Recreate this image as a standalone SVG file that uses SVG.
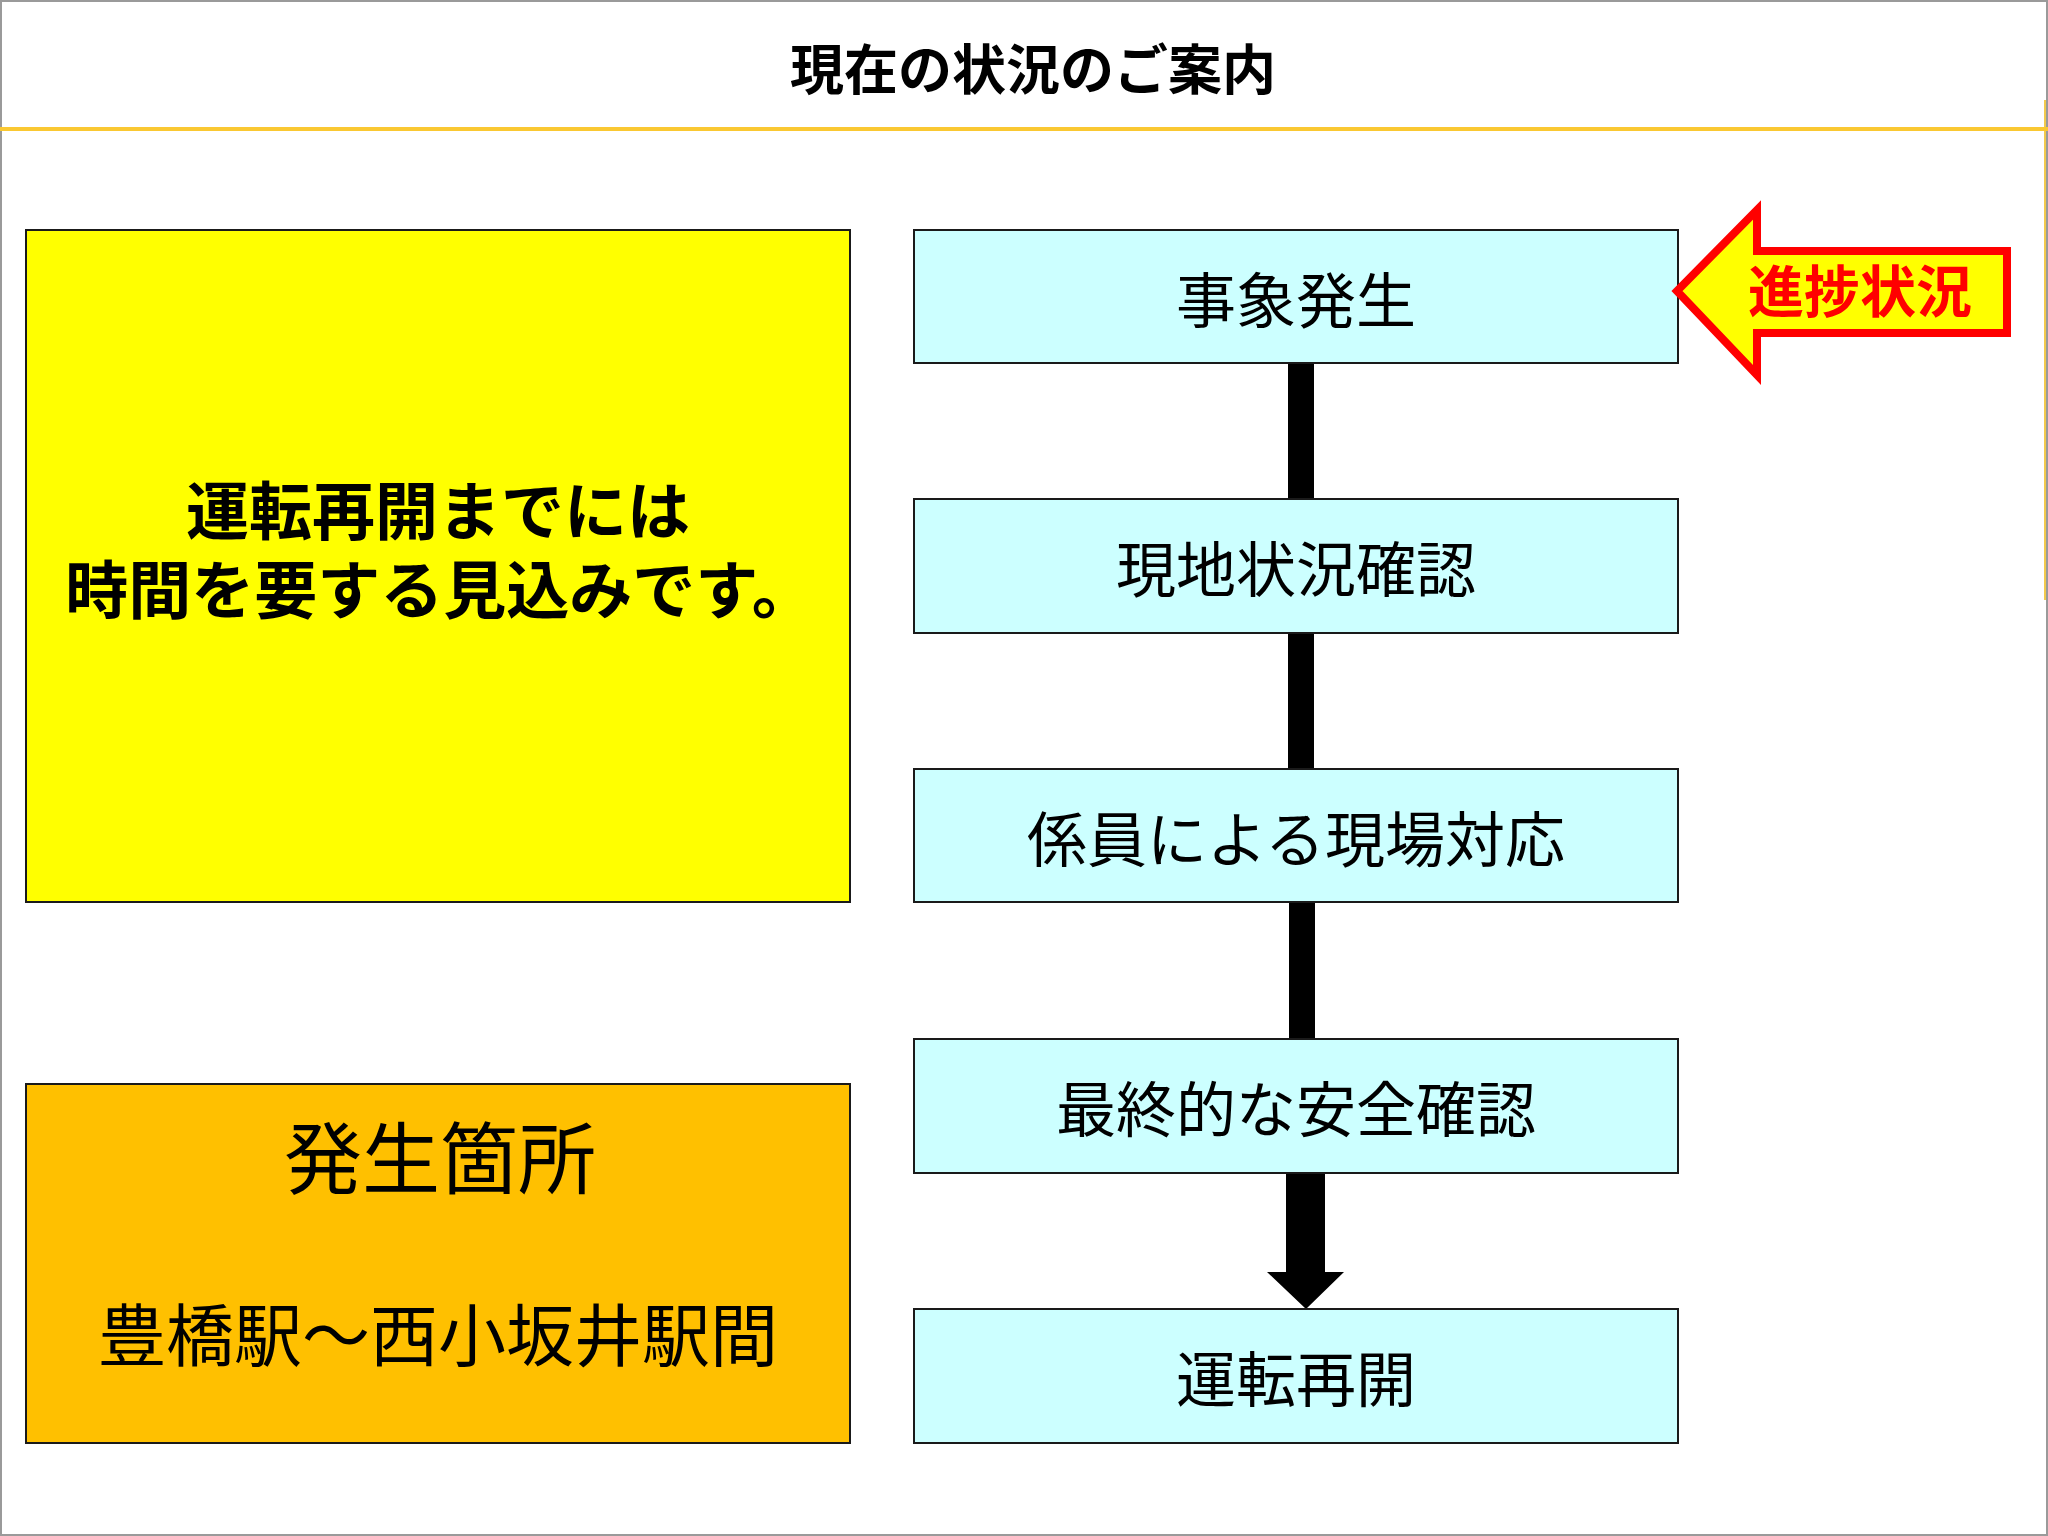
<svg xmlns="http://www.w3.org/2000/svg" width="2048" height="1536" viewBox="0 0 2048 1536">
  <style>
    .jp { font-family: "Noto Sans CJK JP", "Noto Sans", sans-serif; }
    .flowbox { fill: #CCFFFF; stroke: #1a1a1a; stroke-width: 2; }
    .flowtxt { font-size: 60px; fill: #000; text-anchor: middle; dominant-baseline: central; }
    .bar { fill: #000; }
  </style>
  <rect x="0" y="0" width="2048" height="1536" fill="#FFFFFF"/>
  <rect x="1" y="1" width="2046" height="1534" fill="none" stroke="#9a9a9a" stroke-width="2"/>
  <line x1="2045" y1="100" x2="2045" y2="600" stroke="#F2C94C" stroke-width="2"/>

  <g id="title">
    <text class="jp" x="1033" y="66" font-size="54" font-weight="bold" text-anchor="middle" dominant-baseline="central" fill="#000">現在の状況のご案内</text>
    <line x1="0" y1="129" x2="2048" y2="129" stroke="#FAC832" stroke-width="4"/>
  </g>

  <g id="notice">
    <rect x="26" y="230" width="824" height="672" fill="#FFFF00" stroke="#1a1a1a" stroke-width="2"/>
    <text class="jp" font-size="63" font-weight="bold" text-anchor="middle" dominant-baseline="central" fill="#000"><tspan x="438" y="506">運転再開までには</tspan><tspan x="440" y="585">時間を要する見込みです。</tspan></text>
  </g>

  <g id="location">
    <rect x="26" y="1084" width="824" height="359" fill="#FFC000" stroke="#1a1a1a" stroke-width="2"/>
    <text class="jp" x="440" y="1154" font-size="78" text-anchor="middle" dominant-baseline="central" fill="#000">発生箇所</text>
    <text class="jp" x="438" y="1331" font-size="68" text-anchor="middle" dominant-baseline="central" fill="#000">豊橋駅～西小坂井駅間</text>
  </g>

  <g id="connectors">
    <rect class="bar" x="1288" y="364" width="26" height="135"/>
    <rect class="bar" x="1288" y="634" width="26" height="135"/>
    <rect class="bar" x="1289" y="903" width="26" height="136"/>
    <polygon class="bar" points="1286,1174 1325,1174 1325,1272 1344,1272 1306,1309 1267,1272 1286,1272"/>
  </g>

  <g id="step1">
    <rect class="flowbox" x="914" y="230" width="764" height="133"/>
    <text class="jp flowtxt" x="1296" y="296">事象発生</text>
  </g>
  <g id="step2">
    <rect class="flowbox" x="914" y="499" width="764" height="134"/>
    <text class="jp flowtxt" x="1296" y="565">現地状況確認</text>
  </g>
  <g id="step3">
    <rect class="flowbox" x="914" y="769" width="764" height="133"/>
    <text class="jp flowtxt" x="1296" y="835">係員による現場対応</text>
  </g>
  <g id="step4">
    <rect class="flowbox" x="914" y="1039" width="764" height="134"/>
    <text class="jp flowtxt" x="1296" y="1105">最終的な安全確認</text>
  </g>
  <g id="step5">
    <rect class="flowbox" x="914" y="1309" width="764" height="134"/>
    <text class="jp flowtxt" x="1296" y="1375">運転再開</text>
  </g>

  <g id="progress">
    <polygon points="1677,291 1757,210 1757,251 2007,251 2007,333 1757,333 1757,375" fill="#FFFF00" stroke="#FF0000" stroke-width="8" stroke-linejoin="miter"/>
    <text class="jp" x="1860" y="287" font-size="56" font-weight="bold" text-anchor="middle" dominant-baseline="central" fill="#FF0000">進捗状況</text>
  </g>
</svg>
